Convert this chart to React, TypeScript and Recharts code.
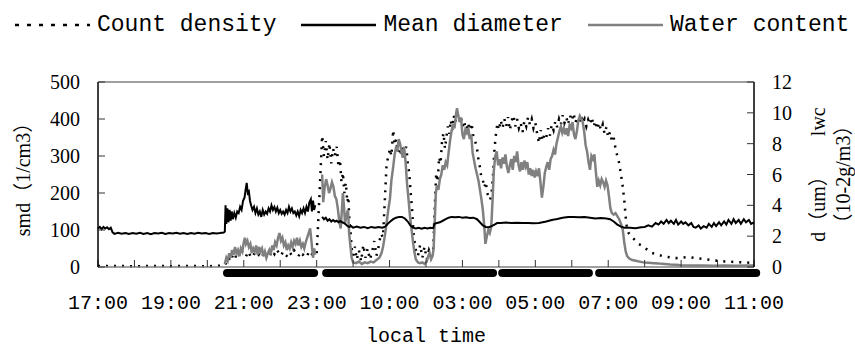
import { ComposedChart, Line, XAxis, YAxis, ReferenceLine, Legend } from "recharts";

// x unit = one tick interval on the time axis (labels every 2 ticks)
const TIME_LABELS = ["17:00", "19:00", "21:00", "23:00", "10:00", "03:00", "05:00", "07:00", "09:00", "11:00"];
const HOUR_TICKS = [0, 1, 2, 3, 4, 5, 6, 7, 8, 9, 10, 11, 12, 13, 14, 15, 16, 17, 18];
const SMD_TICKS = [0, 100, 200, 300, 400, 500];
const RIGHT_TICKS = [0, 2, 4, 6, 8, 10, 12];

// smd, 1/cm3 (left axis)
const COUNT_DENSITY: [number, number][] = [
  [0, 3], [0.5, 3], [1, 2], [1.5, 3], [2, 2], [2.5, 3], [3, 2], [3.48, 4], [3.52, 12], [3.58, 25], [3.64, 15],
  [3.7, 32], [3.76, 22], [3.82, 40], [3.88, 30], [3.94, 45], [4.0, 35], [4.06, 28], [4.12, 42], [4.18, 30],
  [4.24, 25], [4.3, 38], [4.36, 28], [4.42, 33], [4.48, 24], [4.54, 36], [4.6, 27], [4.66, 40], [4.72, 31],
  [4.78, 44], [4.84, 35], [4.9, 48], [4.96, 38], [5.02, 30], [5.08, 42], [5.14, 33], [5.2, 28], [5.26, 40],
  [5.32, 31], [5.38, 45], [5.44, 36], [5.5, 29], [5.56, 41], [5.62, 33], [5.68, 38], [5.74, 30], [5.8, 44],
  [5.86, 36], [5.92, 30], [6.0, 35], [6.08, 200], [6.15, 355], [6.2, 300], [6.25, 340], [6.3, 290], [6.35, 335],
  [6.4, 280], [6.45, 320], [6.5, 300], [6.55, 325], [6.6, 270], [6.64, 290], [6.68, 230], [6.72, 255], [6.76, 200],
  [6.8, 228], [6.84, 175], [6.87, 190], [6.9, 120], [6.93, 95], [6.96, 50], [7.0, 30], [7.05, 55], [7.1, 20],
  [7.16, 45], [7.22, 15], [7.28, 60], [7.34, 25], [7.4, 50], [7.46, 20], [7.52, 40], [7.58, 70], [7.64, 30],
  [7.7, 55], [7.76, 90], [7.82, 80], [7.87, 180], [7.92, 280], [7.97, 300], [8.01, 320], [8.05, 300], [8.1, 370],
  [8.14, 330], [8.18, 345], [8.22, 310], [8.26, 335], [8.3, 300], [8.34, 325], [8.38, 290], [8.42, 315],
  [8.46, 325], [8.5, 280], [8.54, 254], [8.58, 200], [8.62, 154], [8.65, 100], [8.68, 73], [8.72, 46], [8.78, 30],
  [8.84, 60], [8.9, 25], [8.96, 55], [9.02, 20], [9.08, 45], [9.14, 28], [9.2, 50], [9.24, 160], [9.28, 254],
  [9.32, 230], [9.36, 297], [9.4, 280], [9.44, 340], [9.48, 362], [9.52, 320], [9.56, 351], [9.6, 380],
  [9.64, 360], [9.68, 397], [9.72, 370], [9.76, 410], [9.8, 390], [9.85, 424], [9.9, 395], [9.95, 410],
  [10.0, 380], [10.05, 395], [10.1, 360], [10.15, 390], [10.2, 370], [10.25, 389], [10.3, 350], [10.35, 340],
  [10.4, 320], [10.44, 290], [10.48, 270], [10.52, 240], [10.56, 235], [10.6, 215], [10.64, 230], [10.68, 200],
  [10.72, 190], [10.76, 181], [10.8, 200], [10.84, 250], [10.88, 320], [10.92, 360], [10.96, 389], [11.0, 370],
  [11.05, 397], [11.1, 375], [11.15, 400], [11.2, 380], [11.25, 405], [11.3, 370], [11.35, 395], [11.4, 410],
  [11.45, 380], [11.5, 400], [11.55, 375], [11.6, 389], [11.65, 365], [11.7, 395], [11.75, 380], [11.8, 405],
  [11.85, 385], [11.9, 400], [11.95, 375], [12.0, 390], [12.05, 360], [12.1, 335], [12.15, 370], [12.2, 340],
  [12.25, 360], [12.3, 351], [12.35, 375], [12.4, 355], [12.45, 385], [12.5, 370], [12.55, 395], [12.6, 378],
  [12.65, 400], [12.7, 385], [12.75, 410], [12.8, 390], [12.85, 405], [12.9, 385], [12.95, 410], [13.0, 395],
  [13.05, 416], [13.1, 390], [13.15, 405], [13.2, 385], [13.25, 410], [13.3, 390], [13.35, 400], [13.4, 380],
  [13.45, 398], [13.5, 385], [13.55, 405], [13.6, 380], [13.65, 395], [13.7, 372], [13.75, 390], [13.8, 370],
  [13.85, 385], [13.9, 360], [13.95, 378], [14.0, 350], [14.05, 365], [14.1, 340], [14.15, 350], [14.2, 320],
  [14.25, 300], [14.3, 281], [14.35, 250], [14.4, 216], [14.44, 180], [14.48, 135], [14.52, 100], [14.56, 92],
  [14.62, 85], [14.68, 78], [14.76, 70], [14.84, 62], [14.92, 58], [15.0, 52], [15.1, 45], [15.2, 38], [15.3, 35],
  [15.4, 32], [15.55, 28], [15.7, 26], [15.85, 24], [16.0, 25], [16.2, 27], [16.4, 24], [16.6, 22], [16.8, 19],
  [17.0, 17], [17.2, 15], [17.4, 14], [17.6, 13], [17.8, 12], [18, 11],
];

// d, um (right axis); null = gap in the record
const MEAN_DIAMETER: [number, number | null][] = [
  [0, 2.5], [0.05, 2.6], [0.1, 2.45], [0.15, 2.6], [0.2, 2.5], [0.25, 2.58], [0.3, 2.45], [0.35, 2.55], [0.4, 2.25],
  [0.45, 2.15], [0.55, 2.22], [0.65, 2.16], [0.75, 2.2], [0.85, 2.14], [0.95, 2.2], [1.05, 2.16], [1.15, 2.22],
  [1.25, 2.15], [1.35, 2.2], [1.45, 2.13], [1.55, 2.2], [1.65, 2.17], [1.75, 2.22], [1.85, 2.15], [1.95, 2.2],
  [2.05, 2.17], [2.15, 2.22], [2.25, 2.16], [2.35, 2.2], [2.45, 2.15], [2.55, 2.21], [2.65, 2.16], [2.75, 2.22],
  [2.85, 2.17], [2.95, 2.2], [3.05, 2.15], [3.15, 2.21], [3.25, 2.17], [3.35, 2.2], [3.45, 2.24], [3.48, 2.3],
  [3.5, 4.0], [3.52, 2.8], [3.55, 3.8], [3.58, 2.9], [3.61, 3.7], [3.64, 3.0], [3.67, 3.6], [3.7, 3.1], [3.74, 3.5],
  [3.78, 3.2], [3.82, 3.6], [3.86, 3.5], [3.9, 3.9], [3.94, 3.7], [3.98, 4.3], [4.02, 4.5], [4.05, 5.0], [4.08, 5.45],
  [4.11, 4.8], [4.14, 4.9], [4.17, 4.3], [4.2, 4.0], [4.24, 3.7], [4.28, 3.9], [4.32, 3.5], [4.36, 3.8], [4.4, 3.4],
  [4.44, 3.6], [4.48, 3.25], [4.52, 3.7], [4.56, 3.4], [4.6, 3.6], [4.64, 3.45], [4.68, 3.8], [4.72, 3.6], [4.76, 4.0],
  [4.8, 3.7], [4.84, 3.9], [4.88, 3.6], [4.92, 3.85], [4.96, 3.5], [5.0, 3.7], [5.04, 3.45], [5.08, 3.6], [5.12, 3.4],
  [5.16, 3.7], [5.2, 3.5], [5.24, 3.9], [5.28, 3.6], [5.32, 3.8], [5.36, 3.5], [5.4, 3.6], [5.44, 3.35], [5.48, 3.6],
  [5.52, 3.3], [5.56, 3.7], [5.6, 3.5], [5.64, 3.8], [5.68, 3.5], [5.72, 3.9], [5.76, 3.6], [5.8, 4.2], [5.84, 4.4],
  [5.87, 3.6], [5.9, 4.3], [5.93, 3.7], [5.96, 4.0], [6.05, null],
  [6.15, 3.25], [6.2, 3.1], [6.25, 3.2], [6.3, 3.0], [6.35, 3.1], [6.4, 2.95], [6.45, 3.05], [6.5, 2.95], [6.55, 3.0],
  [6.6, 2.9], [6.65, 2.98], [6.7, 2.9], [6.75, 2.85], [6.8, 2.75], [6.85, 2.65], [6.9, 2.6], [6.95, 2.65], [7.0, 2.55],
  [7.1, 2.62], [7.2, 2.55], [7.3, 2.6], [7.4, 2.52], [7.5, 2.6], [7.6, 2.55], [7.7, 2.6], [7.8, 2.55], [7.88, 2.62],
  [7.95, 2.8], [8.02, 2.95], [8.1, 3.1], [8.18, 3.2], [8.26, 3.25], [8.34, 3.25], [8.42, 3.15], [8.5, 2.95],
  [8.57, 2.7], [8.64, 2.55], [8.72, 2.5], [8.8, 2.55], [8.88, 2.48], [8.96, 2.55], [9.04, 2.5], [9.12, 2.55],
  [9.2, 2.52], [9.23, 2.8], [9.3, 2.85], [9.38, 2.9], [9.46, 3.0], [9.54, 3.1], [9.62, 3.2], [9.7, 3.25], [9.8, 3.22],
  [9.9, 3.25], [10.0, 3.2], [10.1, 3.22], [10.2, 3.18], [10.3, 3.2], [10.4, 3.1], [10.48, 2.9], [10.56, 2.7],
  [10.64, 2.6], [10.72, 2.58], [10.8, 2.65], [10.88, 2.75], [10.95, 2.85], [11.05, 2.85], [11.2, 2.88], [11.35, 2.85],
  [11.5, 2.87], [11.65, 2.85], [11.8, 2.86], [11.95, 2.83], [12.1, 2.85], [12.2, 2.9], [12.3, 2.95], [12.45, 3.05],
  [12.6, 3.12], [12.75, 3.2], [12.9, 3.25], [13.05, 3.25], [13.2, 3.22], [13.35, 3.25], [13.5, 3.2], [13.65, 3.15],
  [13.8, 3.18], [13.95, 3.15], [14.05, 3.1], [14.15, 2.95], [14.25, 2.75], [14.35, 2.62], [14.45, 2.55], [14.6, 2.55],
  [14.75, 2.52], [14.9, 2.58], [15.0, 2.6], [15.1, 2.7], [15.2, 2.62], [15.3, 2.85], [15.38, 2.75], [15.45, 2.95],
  [15.52, 2.8], [15.6, 3.05], [15.66, 2.85], [15.72, 3.0], [15.8, 2.8], [15.86, 3.05], [15.92, 2.75], [16.0, 2.95],
  [16.06, 2.8], [16.12, 2.9], [16.2, 2.7], [16.28, 2.85], [16.34, 2.6], [16.4, 2.55], [16.48, 2.7], [16.54, 2.5],
  [16.62, 2.65], [16.7, 2.55], [16.76, 2.8], [16.84, 2.6], [16.9, 2.85], [16.96, 2.65], [17.04, 2.9], [17.1, 2.7],
  [17.18, 2.95], [17.24, 2.75], [17.3, 3.05], [17.38, 2.8], [17.44, 3.1], [17.5, 2.85], [17.58, 3.05], [17.64, 2.8],
  [17.72, 3.1], [17.78, 2.9], [17.86, 3.05], [17.92, 2.8], [18, 2.9],
];

// lwc, 10^-2 g/m3 (right axis)
const WATER_CONTENT: [number, number | null][] = [
  [3.48, 0.2], [3.52, 0.6], [3.56, 0.4], [3.6, 0.9], [3.64, 0.6], [3.68, 1.1], [3.72, 0.8], [3.76, 1.3], [3.8, 0.9],
  [3.84, 1.1], [3.88, 0.7], [3.92, 1.2], [3.96, 1.0], [4.0, 1.6], [4.03, 1.9], [4.06, 1.5], [4.1, 1.7], [4.14, 1.3],
  [4.18, 1.5], [4.22, 0.9], [4.26, 1.2], [4.3, 1.0], [4.34, 1.4], [4.38, 0.8], [4.42, 1.3], [4.46, 1.0], [4.5, 1.2],
  [4.54, 0.7], [4.58, 1.0], [4.62, 0.6], [4.66, 0.9], [4.7, 1.1], [4.74, 0.8], [4.78, 1.4], [4.82, 1.1], [4.86, 1.6],
  [4.9, 1.4], [4.94, 1.9], [4.98, 2.2], [5.02, 1.7], [5.06, 1.9], [5.1, 1.4], [5.14, 1.6], [5.18, 1.1], [5.22, 1.4],
  [5.26, 1.2], [5.3, 1.6], [5.34, 1.3], [5.38, 1.7], [5.42, 1.5], [5.46, 1.9], [5.5, 1.4], [5.54, 1.7], [5.58, 1.3],
  [5.62, 1.5], [5.66, 1.2], [5.7, 1.6], [5.74, 1.9], [5.78, 2.2], [5.82, 2.5], [5.86, 1.6], [5.9, 0.6], [5.93, 1.2],
  [5.96, 0.8], [6.05, null],
  [6.15, 6.0], [6.18, 4.2], [6.22, 5.2], [6.26, 5.7], [6.3, 5.3], [6.34, 4.8], [6.38, 5.1], [6.42, 5.5], [6.46, 5.2],
  [6.5, 4.6], [6.54, 4.4], [6.58, 3.8], [6.62, 3.0], [6.66, 2.5], [6.69, 3.6], [6.72, 4.8], [6.75, 3.9], [6.78, 2.8],
  [6.82, 3.4], [6.86, 3.7], [6.89, 2.2], [6.92, 1.5], [6.96, 0.6], [7.0, 0.3], [7.08, 0.25], [7.16, 0.35], [7.24, 0.2],
  [7.32, 0.3], [7.4, 0.25], [7.48, 0.35], [7.56, 0.3], [7.64, 0.45], [7.72, 0.6], [7.78, 0.9], [7.82, 1.3], [7.87, 2.0],
  [7.92, 2.9], [7.97, 3.8], [8.01, 4.4], [8.05, 5.6], [8.1, 6.5], [8.14, 7.3], [8.18, 7.8], [8.21, 7.5], [8.25, 8.3],
  [8.29, 8.0], [8.33, 7.4], [8.37, 7.1], [8.4, 7.8], [8.44, 6.8], [8.48, 5.4], [8.52, 4.4], [8.56, 3.3], [8.6, 2.5],
  [8.64, 1.7], [8.68, 1.0], [8.72, 0.5], [8.78, 0.3], [8.84, 0.25], [8.9, 0.3], [8.96, 0.2], [9.02, 0.35], [9.06, 0.7],
  [9.1, 0.9], [9.14, 0.5], [9.18, 0.7], [9.21, 1.2], [9.24, 3.0], [9.27, 4.8], [9.3, 5.3], [9.34, 5.0], [9.38, 5.7],
  [9.42, 6.0], [9.46, 6.6], [9.5, 6.3], [9.54, 6.8], [9.58, 6.6], [9.62, 7.4], [9.66, 8.2], [9.7, 8.8], [9.74, 9.3],
  [9.78, 9.0], [9.82, 9.8], [9.85, 10.3], [9.88, 9.9], [9.92, 9.4], [9.96, 9.7], [10.0, 8.6], [10.04, 8.3],
  [10.08, 8.9], [10.12, 8.7], [10.16, 9.0], [10.2, 8.3], [10.24, 8.6], [10.28, 7.4], [10.32, 6.9], [10.36, 6.4],
  [10.4, 6.0], [10.44, 5.6], [10.48, 5.0], [10.52, 4.4], [10.56, 3.7], [10.6, 2.6], [10.63, 1.5], [10.67, 2.0],
  [10.71, 2.4], [10.75, 2.2], [10.79, 2.6], [10.83, 4.5], [10.86, 6.2], [10.9, 7.2], [10.94, 7.5], [10.98, 6.6],
  [11.02, 7.0], [11.06, 6.4], [11.1, 7.1], [11.14, 6.7], [11.18, 7.3], [11.22, 6.5], [11.26, 6.1], [11.3, 6.6],
  [11.34, 7.0], [11.38, 6.3], [11.42, 7.2], [11.46, 6.8], [11.5, 7.5], [11.54, 6.6], [11.58, 6.2], [11.62, 6.8],
  [11.66, 6.3], [11.7, 6.9], [11.74, 6.5], [11.78, 6.8], [11.82, 6.0], [11.86, 6.4], [11.9, 5.9], [11.94, 6.3],
  [11.98, 5.8], [12.02, 6.2], [12.06, 5.9], [12.1, 6.4], [12.14, 5.5], [12.18, 4.5], [12.22, 5.2], [12.26, 6.1],
  [12.3, 6.5], [12.34, 6.8], [12.38, 6.3], [12.42, 7.0], [12.46, 7.2], [12.5, 7.6], [12.54, 7.3], [12.58, 8.0],
  [12.62, 8.4], [12.66, 8.8], [12.7, 9.1], [12.74, 8.7], [12.78, 9.0], [12.82, 8.6], [12.86, 9.0], [12.9, 8.5],
  [12.94, 9.2], [12.98, 9.0], [13.02, 9.4], [13.06, 8.6], [13.1, 8.3], [13.14, 8.8], [13.18, 9.5], [13.22, 9.8],
  [13.26, 9.6], [13.3, 9.4], [13.34, 8.8], [13.38, 7.9], [13.42, 7.5], [13.46, 6.8], [13.5, 6.3], [13.54, 7.2],
  [13.58, 7.0], [13.62, 7.3], [13.66, 6.2], [13.7, 5.2], [13.74, 5.6], [13.78, 5.3], [13.82, 5.7], [13.86, 5.5],
  [13.9, 5.2], [13.94, 5.6], [13.98, 5.3], [14.02, 4.6], [14.06, 3.8], [14.1, 3.5], [14.15, 3.4], [14.2, 3.5],
  [14.25, 3.3], [14.3, 3.1], [14.35, 2.8], [14.4, 2.4], [14.44, 1.6], [14.48, 1.0], [14.52, 0.7], [14.58, 0.55],
  [14.66, 0.45], [14.76, 0.4], [14.86, 0.35], [14.96, 0.3], [15.1, 0.28], [15.25, 0.25], [15.4, 0.22], [15.55, 0.2],
  [15.7, 0.16], [15.85, 0.14], [16.0, 0.12], [16.3, 0.1], [16.6, 0.1], [16.9, 0.08], [17.2, 0.1], [17.5, 0.08],
  [17.8, 0.1], [18, 0.1],
];

// black sampling bars under the axis: [start, end] in tick units
const SAMPLING_BARS: [number, number][] = [
  [3.54, 5.93],
  [6.26, 10.84],
  [11.09, 13.47],
  [13.75, 18.06],
];
const BAR_LEVEL = -16; // just below the x axis, left-axis units

const toRows = (pts: [number, number | null][]) => pts.map(([t, v]) => ({ t, v }));

const countRows = toRows(COUNT_DENSITY);
const diameterRows = toRows(MEAN_DIAMETER);
const waterRows = toRows(WATER_CONTENT);

const MONO = '"Liberation Mono", "DejaVu Sans Mono", monospace';
const SERIF = '"Liberation Serif", "Noto Sans CJK SC", serif';

function LegendRow({ payload }: any) {
  return (
    <div
      style={{
        display: "flex",
        alignItems: "center",
        height: 50,
        paddingLeft: 15,
        fontFamily: MONO,
        fontSize: 23,
        color: "#000",
      }}
    >
      {(payload || []).map((entry: any) => (
        <div key={entry.value} style={{ display: "flex", alignItems: "center", marginRight: 25 }}>
          <svg width={75} height={10}>
            <line
              x1={0}
              y1={5}
              x2={75}
              y2={5}
              stroke={entry.color}
              strokeWidth={2.5}
              strokeDasharray={entry.payload?.strokeDasharray ? "4 8" : undefined}
            />
          </svg>
          <span style={{ marginLeft: 7, whiteSpace: "nowrap" }}>{entry.value}</span>
        </div>
      ))}
    </div>
  );
}

function LeftTitle({ viewBox }: any) {
  const cx = viewBox.x + 23;
  const cy = viewBox.y + viewBox.height / 2;
  return (
    <text
      x={cx}
      y={cy}
      transform={`rotate(-90 ${cx} ${cy})`}
      textAnchor="middle"
      dominantBaseline="central"
      fontFamily={SERIF}
      fontSize={20}
      fill="#000"
    >
      smd（1/cm3）
    </text>
  );
}

function RightTitle({ viewBox }: any) {
  const cy = viewBox.y + viewBox.height / 2;
  const x1 = viewBox.x + 64;
  const x2 = viewBox.x + 89;
  return (
    <g fontFamily={SERIF} fontSize={20} fill="#000">
      <text x={x1} y={cy} transform={`rotate(-90 ${x1} ${cy})`} textAnchor="middle" dominantBaseline="central">
        d（um）　　lwc
      </text>
      <text x={x2} y={cy} transform={`rotate(-90 ${x2} ${cy})`} textAnchor="middle" dominantBaseline="central">
        （10-2g/m3）
      </text>
    </g>
  );
}

export default function App() {
  return (
    <div style={{ position: "absolute", left: 0, top: 0, width: 855, height: 350, background: "#fff" }}>
      <ComposedChart width={855} height={350} margin={{ top: 32, right: 0, bottom: 0, left: 0 }}>
        <Legend
          verticalAlign="top"
          align="left"
          content={<LegendRow />}
          wrapperStyle={{ top: 0, left: 0 }}
        />
        <XAxis
          dataKey="t"
          type="number"
          domain={[0, 18]}
          ticks={HOUR_TICKS}
          interval={0}
          height={83}
          tickSize={-7}
          tickMargin={35}
          tickFormatter={(v: number) => (v % 2 === 0 ? TIME_LABELS[v / 2] : "")}
          tick={{ fill: "#000", fontSize: 20, fontFamily: MONO }}
          axisLine={{ stroke: "#7f7f7f", strokeWidth: 1.5 }}
          tickLine={{ stroke: "#333" }}
          label={{
            value: "local time",
            position: "insideBottom",
            offset: 8,
            style: { fill: "#000", fontSize: 20, fontFamily: MONO },
          }}
        />
        <YAxis
          yAxisId="left"
          type="number"
          domain={[0, 500]}
          ticks={SMD_TICKS}
          width={98}
          tickSize={-7}
          tickMargin={25}
          tick={{ fill: "#000", fontSize: 20, fontFamily: SERIF }}
          axisLine={{ stroke: "#000", strokeWidth: 1.5 }}
          tickLine={{ stroke: "#333" }}
          label={<LeftTitle />}
        />
        <YAxis
          yAxisId="right"
          orientation="right"
          type="number"
          domain={[0, 12]}
          ticks={RIGHT_TICKS}
          width={101}
          tickSize={-7}
          tickMargin={25}
          tick={{ fill: "#000", fontSize: 20, fontFamily: SERIF }}
          axisLine={{ stroke: "#000", strokeWidth: 1.5 }}
          tickLine={{ stroke: "#333" }}
          label={<RightTitle />}
        />
        <ReferenceLine yAxisId="left" y={500} stroke="#7f7f7f" strokeWidth={1.5} />
        {SAMPLING_BARS.map(([a, b]) => (
          <ReferenceLine
            key={a}
            yAxisId="left"
            ifOverflow="visible"
            segment={[
              { x: a, y: BAR_LEVEL },
              { x: b, y: BAR_LEVEL },
            ]}
            stroke="#000"
            strokeWidth={8}
            strokeLinecap="round"
          />
        ))}
        <Line
          data={countRows}
          dataKey="v"
          name="Count density"
          yAxisId="left"
          type="linear"
          stroke="#000"
          strokeWidth={2.5}
          strokeDasharray="2 6"
          dot={false}
          isAnimationActive={false}
        />
        <Line
          data={waterRows}
          dataKey="v"
          name="Water content"
          yAxisId="right"
          type="linear"
          stroke="#808080"
          strokeWidth={2.5}
          dot={false}
          connectNulls={false}
          isAnimationActive={false}
        />
        <Line
          data={diameterRows}
          dataKey="v"
          name="Mean diameter"
          yAxisId="right"
          type="linear"
          stroke="#000"
          strokeWidth={2}
          dot={false}
          connectNulls={false}
          isAnimationActive={false}
        />
      </ComposedChart>
    </div>
  );
}
